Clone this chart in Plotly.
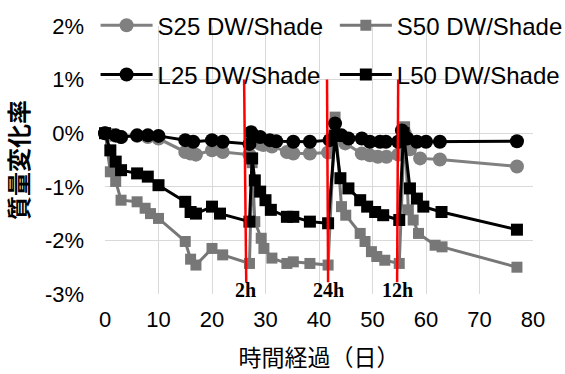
import plotly.graph_objects as go

# ---- data (days, % mass change) ----
s25_x = [0, 1, 2, 3, 6, 8, 10, 15, 16, 17, 20, 22, 27,
         27.3, 29, 29.6, 31.2, 34, 35.2, 38.3, 41.7,
         43, 44.9, 48, 49.5, 51, 52.6, 54.8,
         56, 57, 58.9, 62.6, 77]
s25_y = [0, -0.03, -0.05, -0.07, -0.05, -0.07, -0.1, -0.35, -0.38, -0.4, -0.32, -0.35, -0.4,
         0.0, -0.2, -0.22, -0.25, -0.35, -0.38, -0.38, -0.36,
         0.0, -0.19, -0.38, -0.41, -0.44, -0.44, -0.4,
         0.0, -0.3, -0.47, -0.49, -0.62]

s50_x = [0, 1, 2, 3, 6, 7.5, 8.5, 10, 15, 16, 17, 20, 22, 27,
         27.5, 28, 29.2, 29.7, 31.2, 34, 35.2, 38.3, 41.7,
         43, 44.2, 45, 47.7, 48.6, 49.8, 50.8, 52.3, 55,
         56, 56.7, 57.6, 58.6, 61.7, 63, 77]
s50_y = [0, -0.72, -0.9, -1.25, -1.28, -1.4, -1.5, -1.59, -2.02, -2.35, -2.46, -2.15, -2.27, -2.43,
         -0.55, -1.65, -1.96, -2.15, -2.33, -2.43, -2.4, -2.43, -2.46,
         0.3, -1.37, -1.53, -1.87, -2.02, -2.21, -2.3, -2.37, -2.43,
         0.12, -1.43, -1.62, -1.87, -2.09, -2.12, -2.5]

l25_x = [0, 2, 3, 6, 8, 10, 15, 16.5, 20, 22, 27,
         27.3, 29, 30.8, 32, 35.2, 38.3, 42,
         43, 44.2, 45.5, 48, 49.5, 51.4, 52.5, 54.8,
         55.5, 56.5, 58.3, 60, 62.6, 77]
l25_y = [0, -0.04, -0.07, -0.04, -0.04, -0.05, -0.13, -0.16, -0.13, -0.16, -0.2,
         0.02, -0.07, -0.13, -0.15, -0.16, -0.16, -0.13,
         0.18, -0.04, -0.1, -0.1, -0.16, -0.16, -0.16, -0.16,
         0.05, -0.1, -0.16, -0.16, -0.16, -0.15]

l50_x = [0, 1, 2, 3, 6, 8, 10, 15, 16, 17, 20, 21.5, 27,
         27.5, 28, 29, 30, 31, 34, 35.2, 38.3, 41.7,
         43, 44, 45.5, 47.7, 49, 50.5, 52, 55,
         55.8, 57, 58.3, 59.5, 62.9, 77]
l50_y = [0, -0.32, -0.53, -0.69, -0.75, -0.81, -0.97, -1.28, -1.47, -1.5, -1.37, -1.5, -1.65,
         -0.47, -0.88, -1.09, -1.25, -1.43, -1.56, -1.56, -1.65, -1.68,
         -0.05, -0.84, -1.03, -1.25, -1.37, -1.47, -1.53, -1.62,
         0.0, -1.03, -1.22, -1.37, -1.47, -1.8]

event_labels = ["2h", "24h", "12h"]
event_x_top = [26.0, 41.5, 54.8]
event_x_bot = [26.4, 41.7, 54.6]
event_label_x = [26.2, 41.7, 54.6]

x_ticks = [0, 10, 20, 30, 40, 50, 60, 70, 80]
y_ticks = [-3, -2, -1, 0, 1, 2]
y_tick_text = ["-3%", "-2%", "-1%", "0%", "1%", "2%"]

FONT = "Liberation Sans"
CJK = "Noto Sans CJK JP"

fig = go.Figure()
series = [
    ("S25 DW/Shade", s25_x, s25_y, "#808080", "circle", 14, "legend", "g1"),
    ("S50 DW/Shade", s50_x, s50_y, "#777777", "square", 11, "legend2", "g3"),
    ("L25 DW/Shade", l25_x, l25_y, "#000000", "circle", 14, "legend", "g2"),
    ("L50 DW/Shade", l50_x, l50_y, "#000000", "square", 12, "legend2", "g4"),
]
for name, xs, ys, col, sym, sz, leg, grp in series:
    fig.add_trace(go.Scatter(
        x=xs, y=ys, name=name, mode="lines+markers",
        line=dict(color=col, width=3),
        marker=dict(symbol=sym, size=sz, color=col, line=dict(width=0)),
        cliponaxis=False, legend=leg, legendgroup=grp,
    ))

for lab, xt, xb, xl in zip(event_labels, event_x_top, event_x_bot, event_label_x):
    fig.add_shape(type="line", xref="x", yref="y", x0=xt, y0=1.0, x1=xb, y1=-2.78,
                  line=dict(color="#ff0000", width=2.5))
    fig.add_annotation(x=xl, y=-2.93, xref="x", yref="y", text=lab, showarrow=False,
                       font=dict(family="Liberation Serif", size=20, color="black", weight="bold"))

leg_font = dict(family=FONT, size=24, color="black")
fig.update_layout(
    width=565, height=374,
    margin=dict(l=105, r=32, t=26, b=80, autoexpand=False),
    plot_bgcolor="white", paper_bgcolor="white",
    showlegend=True,
    legend=dict(x=-0.022, y=1.085, xanchor="left", yanchor="top", itemwidth=52,
                tracegroupgap=15, bgcolor="rgba(0,0,0,0)", font=leg_font),
    legend2=dict(x=0.537, y=1.085, xanchor="left", yanchor="top", itemwidth=52,
                 tracegroupgap=15, bgcolor="rgba(0,0,0,0)", font=leg_font),
    xaxis=dict(range=[0, 80], tickvals=x_ticks, showgrid=True, gridcolor="#d9d9d9",
               gridwidth=1, zeroline=False, showline=False, ticks="",
               ticklabelstandoff=10,
               tickfont=dict(family=FONT, size=22, color="black"),
               title=dict(text="時間経過（日）", standoff=18,
                          font=dict(family=CJK, size=23, color="black"))),
    yaxis=dict(range=[-3, 2], tickvals=y_ticks, ticktext=y_tick_text, showgrid=True,
               gridcolor="#d9d9d9", gridwidth=1, zeroline=False, showline=False,
               ticks="", ticklabelstandoff=20,
               tickfont=dict(family=FONT, size=22, color="black"),
               title=dict(text="質量変化率", standoff=11,
                          font=dict(family=CJK, size=24, color="black", weight="bold"))),
)

fig.write_html("out.html")
